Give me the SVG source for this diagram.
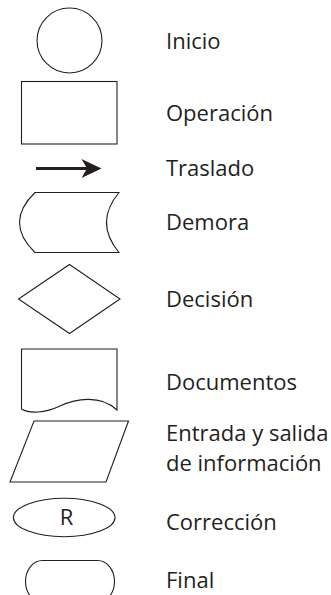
<svg xmlns="http://www.w3.org/2000/svg" width="331" height="595" viewBox="0 0 331 595">
<style>
.s{fill:#fff;stroke:#231f20;stroke-width:1.1}
.t{font-family:"Open Sans","Noto Sans",sans-serif;font-size:22px;fill:#231f20}
</style>
<rect width="331" height="595" fill="#fff"/>
<g id="inicio"><circle class="s" cx="69.5" cy="40.5" r="32.5"/><text class="t" x="166" y="48.5">Inicio</text></g>
<g id="operacion"><rect class="s" x="21.5" y="81.5" width="95.5" height="62.5"/><text class="t" x="166" y="120.5">Operación</text></g>
<g id="connectors"><line x1="36" y1="168.5" x2="88" y2="168.5" stroke="#231f20" stroke-width="3.2"/><path d="M101.5,168.5 L81.5,159 L87,168.5 L81.5,178 Z" fill="#231f20"/></g>
<g id="traslado"><text class="t" x="166" y="176">Traslado</text></g>
<g id="demora"><path class="s" d="M35,192.5 H119 Q94,222.5 119,252.5 H35 Q4,222.5 35,192.5 Z"/><text class="t" x="166" y="230">Demora</text></g>
<g id="decision"><path class="s" d="M69.5,264.5 L120,299 L69.5,333.5 L18.5,299 Z"/><text class="t" x="166" y="306.5">Decisión</text></g>
<g id="documentos"><path class="s" d="M21.5,349 H117 V410 C100,394 75,399 60,406 C45,413 30,414 21.5,409 Z"/><text class="t" x="166" y="390">Documentos</text></g>
<g id="entrada"><path class="s" d="M34,421 L128.5,421 L106,482 L10,482 Z"/><text class="t" x="166" y="441">Entrada y salida</text><text class="t" x="166" y="471">de información</text></g>
<g id="correccion"><ellipse class="s" cx="64.2" cy="517.5" rx="50.8" ry="19.2"/><text class="t" x="66.5" y="524.5" text-anchor="middle">R</text><text class="t" x="166" y="530">Corrección</text></g>
<g id="final"><rect class="s" x="25.5" y="560.5" width="89" height="42" rx="17" ry="21"/><text class="t" x="166" y="588.3">Final</text></g>
</svg>
